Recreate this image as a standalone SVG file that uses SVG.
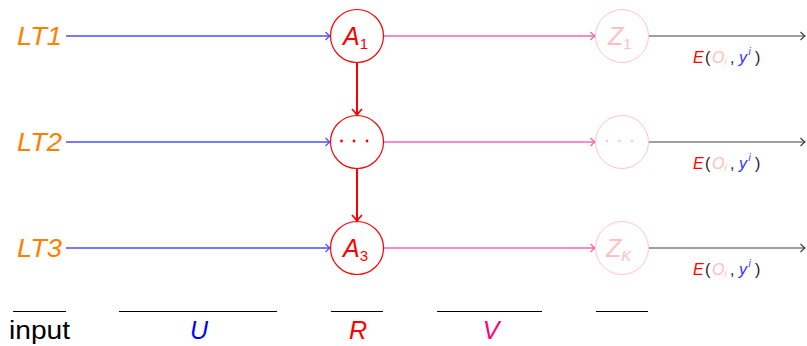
<svg xmlns="http://www.w3.org/2000/svg" width="807" height="346" viewBox="0 0 807 346">
<style>
.t{font-family:"Liberation Sans","DejaVu Sans",sans-serif;font-style:italic}
.lt{fill:#ff8000;font-size:25px}
.a{fill:none;stroke:#ff0000;stroke-width:1.2}
.z{fill:none;stroke:#ffc4c4;stroke-width:1}
.blue{stroke:#4d4dff;stroke-width:1.3;fill:none}
.pink{stroke:#ff5fae;stroke-width:1.6;fill:none}
.red{stroke:#ff0000;stroke-width:2;fill:none}
.blk{stroke:#404040;stroke-width:1.2;fill:none}
.bar{stroke:#000;stroke-width:1}
.e{font-size:16px}
.p{fill:#222;font-style:normal}
.o{fill:#ffc0c0}
.y{fill:#3333ff}
.s{font-size:10px}
</style>
<defs>
<marker id="mb" markerWidth="10" markerHeight="10" refX="0" refY="0" viewBox="-6 -5 7 10" orient="auto" markerUnits="userSpaceOnUse"><path d="M-4.5,-4 Q-1.5,-1 0,0 Q-1.5,1 -4.5,4" fill="none" stroke="#4d4dff" stroke-width="1.2"/></marker>
<marker id="mp" markerWidth="10" markerHeight="10" refX="0" refY="0" viewBox="-6 -5 7 10" orient="auto" markerUnits="userSpaceOnUse"><path d="M-4.5,-4 Q-1.5,-1 0,0 Q-1.5,1 -4.5,4" fill="none" stroke="#ff5fae" stroke-width="1.2"/></marker>
<marker id="mr" markerWidth="12" markerHeight="12" refX="0" refY="0" viewBox="-7 -6 8 12" orient="auto" markerUnits="userSpaceOnUse"><path d="M-6,-5 Q-2,-1.2 0,0 Q-2,1.2 -6,5" fill="none" stroke="#ff0000" stroke-width="1.8"/></marker>
<marker id="mk" markerWidth="10" markerHeight="10" refX="0" refY="0" viewBox="-6 -5 7 10" orient="auto" markerUnits="userSpaceOnUse"><path d="M-4.5,-4 Q-1.5,-1 0,0 Q-1.5,1 -4.5,4" fill="none" stroke="#404040" stroke-width="1.2"/></marker>
</defs>

<g id="connectors">
<line class="blue" x1="66" y1="36" x2="330" y2="36" marker-end="url(#mb)"/>
<line class="blue" x1="66" y1="142" x2="330" y2="142" marker-end="url(#mb)"/>
<line class="blue" x1="66" y1="248" x2="330" y2="248" marker-end="url(#mb)"/>
<line class="red" x1="357" y1="63" x2="357" y2="115" marker-end="url(#mr)"/>
<line class="red" x1="357" y1="169" x2="357" y2="221" marker-end="url(#mr)"/>
<line class="pink" x1="384" y1="36" x2="595" y2="36" marker-end="url(#mp)"/>
<line class="pink" x1="384" y1="142" x2="595" y2="142" marker-end="url(#mp)"/>
<line class="pink" x1="384" y1="248" x2="595" y2="248" marker-end="url(#mp)"/>
<line class="blk" x1="649" y1="36" x2="805" y2="36" marker-end="url(#mk)"/>
<line class="blk" x1="649" y1="142" x2="805" y2="142" marker-end="url(#mk)"/>
<line class="blk" x1="649" y1="248" x2="805" y2="248" marker-end="url(#mk)"/>
</g>

<g id="lt1"><text class="t lt" x="17" y="45" textLength="45" lengthAdjust="spacingAndGlyphs">LT1</text></g>
<g id="lt2"><text class="t lt" x="17" y="151" textLength="45" lengthAdjust="spacingAndGlyphs">LT2</text></g>
<g id="lt3"><text class="t lt" x="17" y="257" textLength="45" lengthAdjust="spacingAndGlyphs">LT3</text></g>

<g id="a1"><circle class="a" cx="357" cy="36" r="26.5"/><text class="t" x="343" y="45" font-size="25" fill="#ff0000">A<tspan font-style="normal" font-size="15" dy="4">1</tspan></text></g>
<g id="a2"><circle class="a" cx="357" cy="142" r="26.5"/><g fill="#ff0000"><circle cx="341.5" cy="141" r="1.4"/><circle cx="354" cy="141" r="1.4"/><circle cx="367" cy="141" r="1.4"/></g></g>
<g id="a3"><circle class="a" cx="357" cy="248" r="26.5"/><text class="t" x="343" y="257" font-size="25" fill="#ff0000">A<tspan font-style="normal" font-size="15" dy="4">3</tspan></text></g>

<g id="z1"><circle class="z" cx="622" cy="36" r="26.5"/><text class="t" x="608" y="45" font-size="25" fill="#ffc0c0">Z<tspan font-style="normal" font-size="15" dy="4">1</tspan></text></g>
<g id="z2"><circle class="z" cx="622" cy="142" r="26.5"/><g fill="#ffc8c8"><circle cx="607" cy="141" r="1.3"/><circle cx="619.5" cy="141" r="1.3"/><circle cx="632" cy="141" r="1.3"/></g></g>
<g id="z3"><circle class="z" cx="622" cy="248" r="26.5"/><text class="t" x="606" y="257" font-size="25" fill="#ffc0c0">Z<tspan font-size="15" dy="4">K</tspan></text></g>

<g id="e1"><text class="t e" y="63"><tspan x="693" fill="#ff0000">E</tspan><tspan x="705" class="p">(</tspan><tspan x="712" class="o">O</tspan><tspan x="724.5" y="65" class="o s">i</tspan><tspan x="730" y="63" class="p">,</tspan><tspan x="739" class="y">y</tspan><tspan x="748.5" y="55" class="y s">i</tspan><tspan x="755" y="63" class="p">)</tspan></text></g>
<g id="e2"><text class="t e" y="169"><tspan x="693" fill="#ff0000">E</tspan><tspan x="705" class="p">(</tspan><tspan x="712" class="o">O</tspan><tspan x="724.5" y="171" class="o s">i</tspan><tspan x="730" y="169" class="p">,</tspan><tspan x="739" class="y">y</tspan><tspan x="748.5" y="161" class="y s">i</tspan><tspan x="755" y="169" class="p">)</tspan></text></g>
<g id="e3"><text class="t e" y="275"><tspan x="693" fill="#ff0000">E</tspan><tspan x="705" class="p">(</tspan><tspan x="712" class="o">O</tspan><tspan x="724.5" y="277" class="o s">i</tspan><tspan x="730" y="275" class="p">,</tspan><tspan x="739" class="y">y</tspan><tspan x="748.5" y="267" class="y s">i</tspan><tspan x="755" y="275" class="p">)</tspan></text></g>

<g id="legend">
<line class="bar" x1="13" y1="311.5" x2="66" y2="311.5"/>
<line class="bar" x1="119" y1="311.5" x2="277" y2="311.5"/>
<line class="bar" x1="331" y1="311.5" x2="383" y2="311.5"/>
<line class="bar" x1="437" y1="311.5" x2="542" y2="311.5"/>
<line class="bar" x1="596" y1="311.5" x2="648" y2="311.5"/>
<text x="9" y="339" font-family="Liberation Sans, DejaVu Sans, sans-serif" font-size="25" fill="#000" textLength="61" lengthAdjust="spacingAndGlyphs">input</text>
<text class="t" x="199" y="339" font-size="25" fill="#0000ff" text-anchor="middle">U</text>
<text class="t" x="358" y="339" font-size="25" fill="#ff0000" text-anchor="middle">R</text>
<text class="t" x="491" y="339" font-size="25" fill="#ff0080" text-anchor="middle">V</text>
</g>
</svg>
